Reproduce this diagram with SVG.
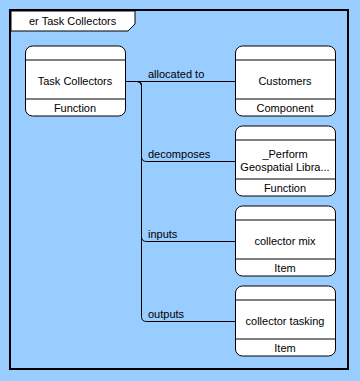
<svg xmlns="http://www.w3.org/2000/svg" width="360" height="381" viewBox="0 0 360 381">
  <style>
    text { font-family: "Liberation Sans", Arial, sans-serif; font-size: 11px; fill: #000; }
    .mid { text-anchor: middle; }
    .box { fill: #fff; stroke: #000; stroke-width: 1; }
    .sep { stroke: #000; stroke-width: 1; }
    .wire { fill: none; stroke: #000; stroke-width: 1; }
  </style>
  <defs>
    <!-- shared node outline: rounded box with header and footer bands -->
    <g id="card">
      <rect class="box" x="0.5" y="0.5" width="100" height="70" rx="7" ry="7"/>
      <line class="sep" x1="0.5" y1="14.5" x2="100.5" y2="14.5"/>
      <line class="sep" x1="0.5" y1="53.5" x2="100.5" y2="53.5"/>
    </g>
  </defs>

  <rect x="0" y="0" width="360" height="381" fill="#99ccff"/>

  <!-- diagram frame and name tab -->
  <g id="frame">
    <rect x="10" y="10" width="338" height="359" fill="none" stroke="#000" stroke-width="2"/>
    <path d="M11,11 H135 V24 L128,31 H11 Z" fill="#fff" stroke="#000" stroke-width="1"/>
    <text x="29" y="25">er Task Collectors</text>
  </g>

  <!-- connectors -->
  <g id="connectors">
    <path class="wire" d="M125,81.5 H235"/>
    <path class="wire" d="M125,81.5 H137 Q141.5,81.5 141.5,86 V156.5 Q141.5,161.5 146.5,161.5 H235"/>
    <path class="wire" d="M125,81.5 H137 Q141.5,81.5 141.5,86 V236.5 Q141.5,241.5 146.5,241.5 H235"/>
    <path class="wire" d="M125,81.5 H137 Q141.5,81.5 141.5,86 V316.5 Q141.5,321.5 146.5,321.5 H235"/>
    <text x="148" y="78">allocated to</text>
    <text x="148" y="158">decomposes</text>
    <text x="148" y="238">inputs</text>
    <text x="148" y="318">outputs</text>
  </g>

  <g id="task-collectors" transform="translate(25,45.5)">
    <use href="#card"/>
    <text class="mid" x="50" y="39.5">Task Collectors</text>
    <text class="mid" x="50" y="66">Function</text>
  </g>

  <g id="customers" transform="translate(235,45.5)">
    <use href="#card"/>
    <text class="mid" x="50" y="39.5">Customers</text>
    <text class="mid" x="50" y="66">Component</text>
  </g>

  <g id="perform-geospatial" transform="translate(235,125.5)">
    <use href="#card"/>
    <text class="mid" x="50" y="32">_Perform</text>
    <text class="mid" x="50" y="45">Geospatial Libra...</text>
    <text class="mid" x="50" y="66">Function</text>
  </g>

  <g id="collector-mix" transform="translate(235,205.5)">
    <use href="#card"/>
    <text class="mid" x="50" y="39.5">collector mix</text>
    <text class="mid" x="50" y="66">Item</text>
  </g>

  <g id="collector-tasking" transform="translate(235,285.5)">
    <use href="#card"/>
    <text class="mid" x="50" y="39.5">collector tasking</text>
    <text class="mid" x="50" y="66">Item</text>
  </g>
</svg>
